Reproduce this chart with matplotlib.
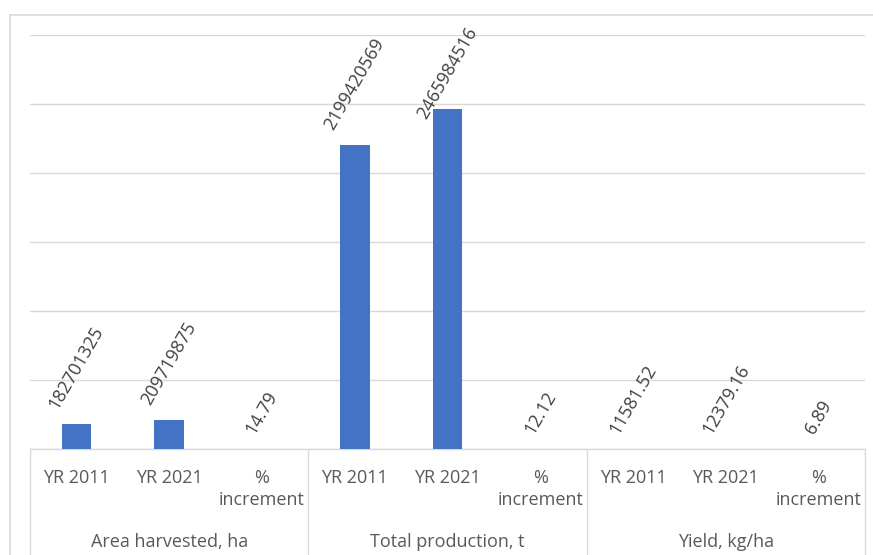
import matplotlib
matplotlib.use("Agg")
import matplotlib.pyplot as plt
from matplotlib.lines import Line2D
from matplotlib.transforms import blended_transform_factory

# data
groups = ["Area harvested, ha", "Total production, t", "Yield, kg/ha"]
sub_labels = ["YR 2011", "YR 2021", "%\nincrement"]
area_vals = [182701325, 209719875, 14.79]
prod_vals = [2199420569, 2465984516, 12.12]
yield_vals = [11581.52, 12379.16, 6.89]

values = area_vals + prod_vals + yield_vals
ticklabels = sub_labels * len(groups)

plt.rcParams["font.family"] = ["Open Sans", "DejaVu Sans"]
grey = "#d9d9d9"
text_col = "#595959"

W, H = 873, 555
fig = plt.figure(figsize=(W / 100, H / 100), dpi=100)
ax = fig.add_axes([30 / W, (H - 449) / H, 835 / W, 414 / H])

x = list(range(len(values)))
bars = ax.bar(x, values, width=0.32, color="#4472C4", zorder=3)

ax.set_xlim(-0.5, len(values) - 0.5)
ax.set_ylim(0, 3e9)
ax.set_yticks([i * 5e8 for i in range(7)])
ax.yaxis.grid(True, color=grey, linewidth=1.0)
ax.set_axisbelow(True)
ax.tick_params(axis="y", left=False, labelleft=False)
ax.set_xticks(x)
ax.set_xticklabels(ticklabels, fontsize=13, color=text_col, linespacing=1.3)
ax.tick_params(axis="x", length=0, pad=14.5)
for s in ["left", "right", "top"]:
    ax.spines[s].set_visible(False)
ax.spines["bottom"].set_color(grey)
ax.spines["bottom"].set_linewidth(1.0)

# group separators and group names under the axis
trans = ax.get_xaxis_transform()
depth = -106 / 414
for i in range(len(groups) + 1):
    xs = i * 3 - 0.5
    ax.add_line(Line2D([xs, xs], [0, depth], transform=trans, color=grey,
                       linewidth=1.0, clip_on=False))
gtrans = blended_transform_factory(ax.transData, fig.transFigure)
for i, g in enumerate(groups):
    ax.text(i * 3 + 1, (H - 542) / H, g, fontsize=13, color=text_col,
            ha="center", va="center", transform=gtrans)

# rotated data labels
labels = []
for b, v in zip(bars, values):
    s = str(int(v)) if float(v).is_integer() else f"{v:.2f}"
    t = ax.annotate(s, (b.get_x() + b.get_width() / 2, b.get_height()),
                    xytext=(0, 12), textcoords="offset pixels",
                    rotation=60, ha="center", va="bottom",
                    fontsize=13, color="#404040")
    labels.append(t)

# keep labels inside the chart area like Excel does
renderer = fig.canvas.get_renderer()
limit = H - 24
for t in labels:
    bb = t.get_window_extent(renderer)
    if bb.y1 > limit:
        t.xyann = (0, 12 - (bb.y1 - limit))

# chart area border
fig.add_artist(Line2D([10 / W, 10 / W], [0, (H - 15) / H], color=grey, linewidth=1.2,
                      transform=fig.transFigure))
fig.add_artist(Line2D([10 / W, 1], [(H - 15) / H, (H - 15) / H], color=grey, linewidth=1.2,
                      transform=fig.transFigure))

fig.savefig("out.png", dpi=100, facecolor="white")
